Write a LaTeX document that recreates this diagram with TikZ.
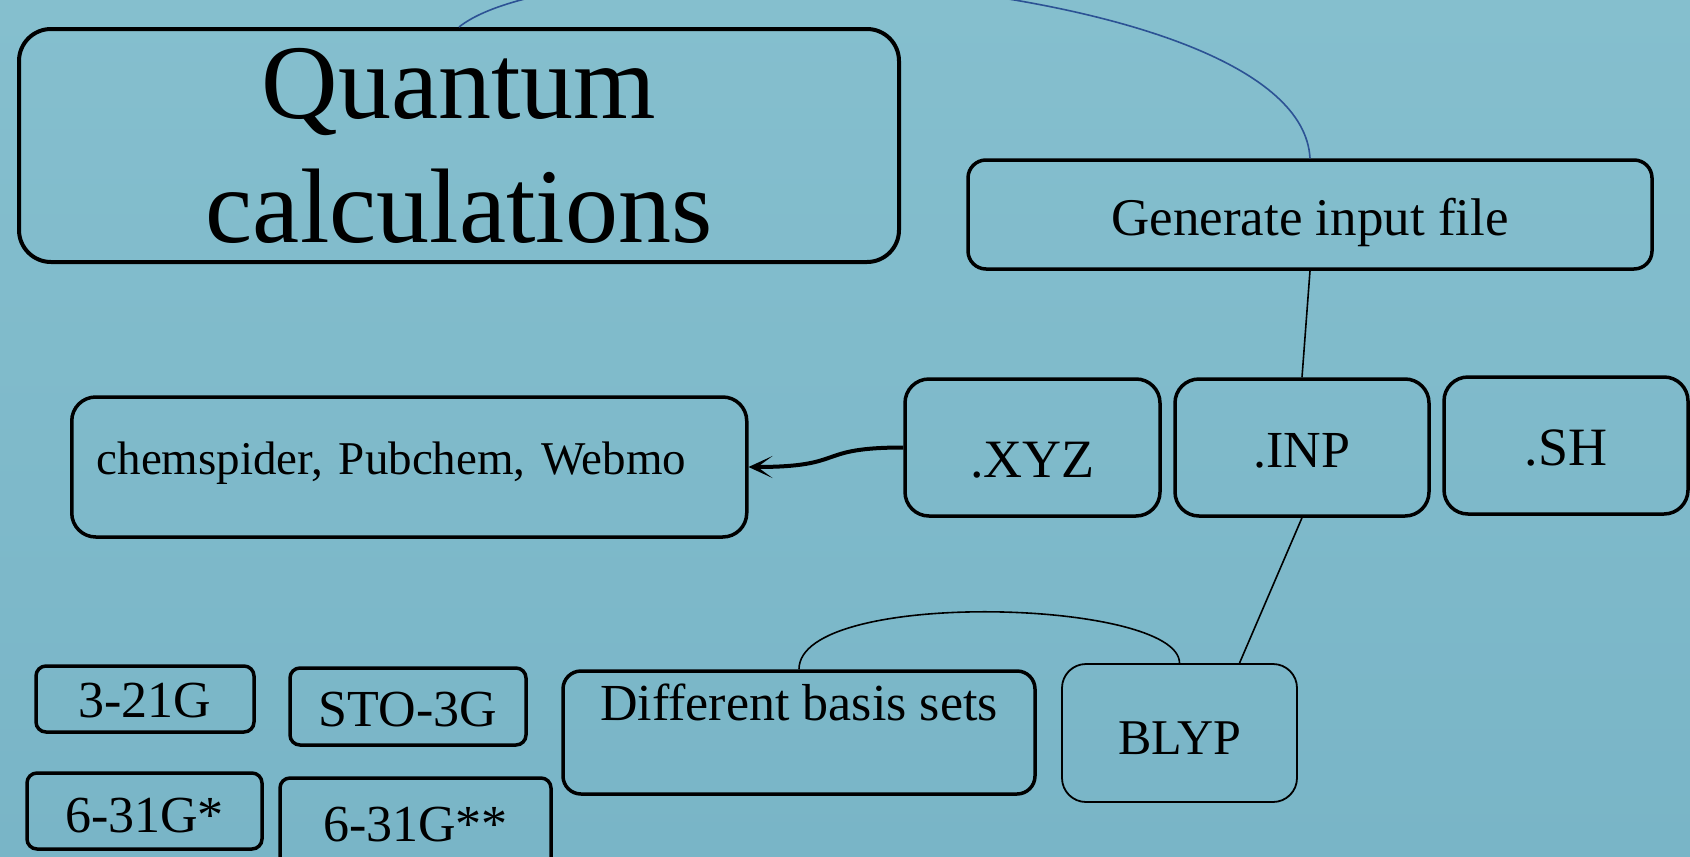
\documentclass[tikz,border=0pt]{standalone}
\usepackage{fontspec}
\setmainfont{Liberation Serif}
\usetikzlibrary{arrows.meta}

\definecolor{bgtop}{RGB}{133,191,206}
\definecolor{bgbot}{RGB}{121,181,199}
\definecolor{linkblue}{RGB}{44,82,148}

\begin{document}
\begin{tikzpicture}[x=1pt,y=-1pt,
  box/.style={draw=black,line width=3.5pt,rounded corners=24pt,inner sep=0pt,anchor=base,align=center,font=\fontsize{52}{60}\selectfont},
  smallbox/.style={box,rounded corners=10pt},
  link/.style={draw=black,line width=1.6pt}]
  % Background
  \useasboundingbox (0,0) rectangle (1690,857);
  \shade[top color=bgtop,bottom color=bgbot] (0,0) rectangle (1690,857);
  \clip (0,0) rectangle (1690,857);

  % Title box
  \node[box,anchor=center,minimum width=880pt,minimum height=233pt,rounded corners=32pt,line width=4pt,font=\fontsize{106}{124}\selectfont] (quantum) at (459,145.5) {Quantum\\calculations};

  % Input files
  \node[box,minimum width=684pt,text height=75pt,text depth=34pt,rounded corners=18pt,font=\fontsize{53}{60}\selectfont] (gen) at (1310,235) {Generate input file};
  \node[box,anchor=base west,inner xsep=25pt,text width=625pt,align=left,text height=77pt,text depth=63pt,font=\fontsize{47}{54}\selectfont] (chem) at (70,474) {chemspider, Pubchem, Webmo};
  \node[box,minimum width=255pt,text height=98pt,text depth=39pt,font=\fontsize{54}{60}\selectfont] (xyz) at (1032.5,477) {.XYZ};
  \node[box,minimum width=254pt,text height=88pt,text depth=49pt] (inp) at (1302,467) {.INP};
  \node[box,minimum width=244pt,text height=88pt,text depth=49pt,font=\fontsize{54}{60}\selectfont] (sh) at (1566,465) {.SH};

  % Method and basis sets
  \node[box,minimum width=472pt,text height=49pt,text depth=74pt,rounded corners=18pt] (basis) at (799,720) {Different basis sets};
  \node[box,minimum width=235pt,text height=90pt,text depth=48pt,line width=1.8pt,font=\fontsize{50}{58}\selectfont] (blyp) at (1179.5,754) {BLYP};
  \node[smallbox,minimum width=218pt,text height=51pt,text depth=15pt] (b321) at (145,717) {3-21G};
  \node[smallbox,minimum width=236pt,text height=58pt,text depth=19pt] (sto) at (408,726) {STO-3G};
  \node[smallbox,minimum width=235pt,text height=59pt,text depth=17pt] (g631s) at (144.5,832) {6-31G*};
  \node[smallbox,minimum width=271pt,text height=63pt,text depth=30pt] (g631ss) at (415.5,841) {6-31G**};

  % Connectors
  \draw[linkblue,line width=1.6pt] (quantum.north) .. controls +(120,-95) and +(-10,-185) .. (gen.north);
  \draw[link] (gen.south) -- (inp.north);
  \draw[link] (inp.south) -- ([xshift=60pt]blyp.north);
  \draw[link] (blyp.north) .. controls +(0,-64) and +(0,-81) .. (basis.north);
  \draw[line width=4pt,-{Stealth[length=24pt,width=22pt,inset=15pt]}] (xyz.west) .. controls +(-90,0) and +(100,0) .. (chem.east);
\end{tikzpicture}
\end{document}
